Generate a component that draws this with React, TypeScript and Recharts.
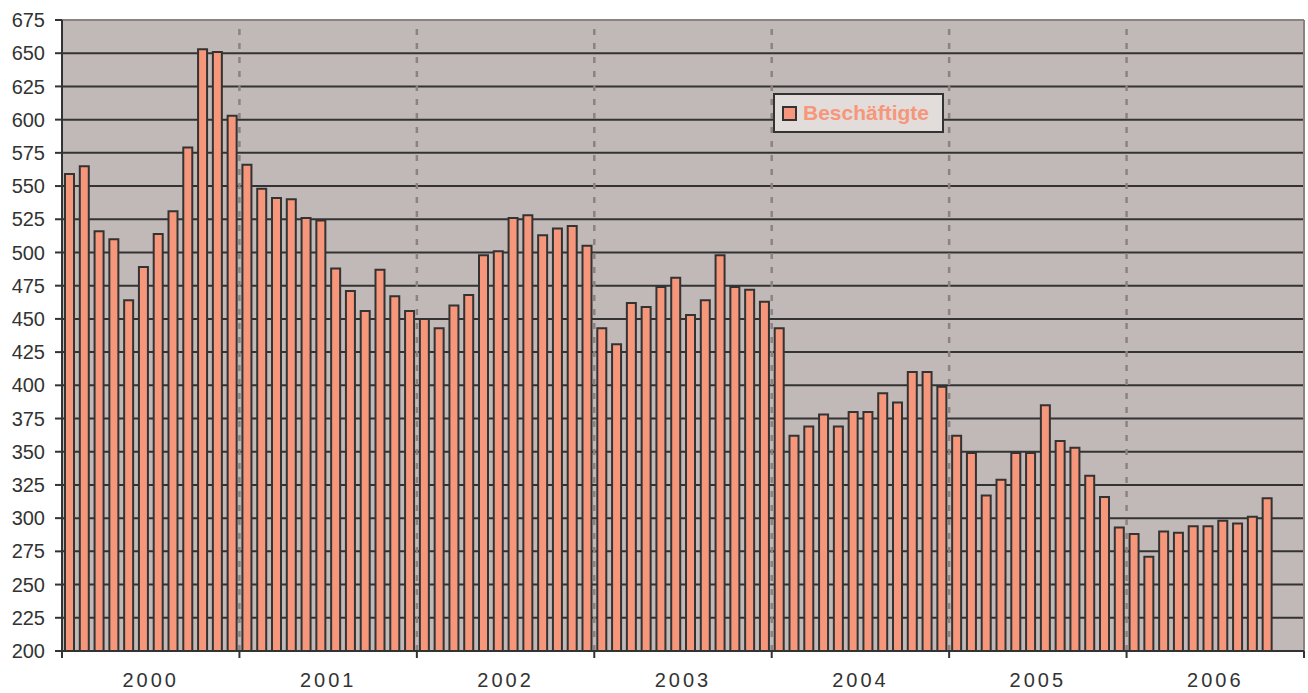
import React from 'react';
import { BarChart, Bar, XAxis, YAxis, CartesianGrid, ReferenceLine, Legend } from 'recharts';

// Beschäftigte per month, Jan 2000 .. Oct 2006
const YEARS = ['2000', '2001', '2002', '2003', '2004', '2005', '2006'];
const V2000 = [559, 565, 516, 510, 464, 489, 514, 531, 579, 653, 651, 603];
const V2001 = [566, 548, 541, 540, 526, 524, 488, 471, 456, 487, 467, 456];
const V2002 = [450, 443, 460, 468, 498, 501, 526, 528, 513, 518, 520, 505];
const V2003 = [443, 431, 462, 459, 474, 481, 453, 464, 498, 474, 472, 463];
const V2004 = [443, 362, 369, 378, 369, 380, 380, 394, 387, 410, 410, 399];
const V2005 = [362, 349, 317, 329, 349, 349, 385, 358, 353, 332, 316, 293];
const V2006 = [288, 271, 290, 289, 294, 294, 298, 296, 301, 315];
const Y_TICKS = [200, 225, 250, 275, 300, 325, 350, 375, 400, 425, 450, 475, 500, 525, 550, 575, 600, 625, 650, 675];
const SERIES_NAME = 'Beschäftigte';

const MONTHS = [...V2000, ...V2001, ...V2002, ...V2003, ...V2004, ...V2005, ...V2006];
const data = MONTHS.map((v, i) => ({ m: i + 0.5, v }));
const TOTAL = YEARS.length * 12;
const yearEdges = YEARS.map((_, i) => i * 12).concat(TOTAL);
const yearMids = YEARS.map((_, i) => i * 12 + 6);

const FONT = '"Liberation Sans", Arial, sans-serif';
const BAR = '#F6967A';
const DARK = '#333333';
const GREY = '#8C8282';

const LegendBox = () => (
  <div
    style={{
      boxSizing: 'border-box',
      width: 171,
      height: 40,
      border: `2px solid ${DARK}`,
      background: '#E2DCDA',
      display: 'flex',
      alignItems: 'center',
      paddingLeft: 7,
      fontFamily: FONT,
    }}
  >
    <span style={{ display: 'inline-block', boxSizing: 'border-box', width: 15, height: 15, background: BAR, border: `2px solid ${DARK}` }} />
    <span style={{ marginLeft: 6, color: BAR, fontWeight: 'bold', fontSize: 21 }}>{SERIES_NAME}</span>
  </div>
);

// year edges only get a tick mark, no text
const NoLabel = () => <g />;

export default function App() {
  return (
    <div style={{ position: 'absolute', left: 0, top: 0, background: '#fff' }}>
      <BarChart width={1308} height={693} data={data} margin={{ top: 20, right: 4, bottom: 0, left: 0 }}>
        <CartesianGrid
          xAxisId="m"
          vertical={false}
          stroke={DARK}
          strokeWidth={2}
          fill="#C1B9B7"
          fillOpacity={1}
        />
        <XAxis
          xAxisId="m"
          dataKey="m"
          type="number"
          domain={[0, TOTAL]}
          allowDataOverflow
          ticks={yearEdges}
          interval={0}
          tick={<NoLabel />}
          tickSize={7}
          height={8}
          axisLine={{ stroke: DARK, strokeWidth: 2 }}
          tickLine={{ stroke: DARK, strokeWidth: 2 }}
        />
        <XAxis
          xAxisId="yr"
          dataKey="m"
          type="number"
          domain={[0, TOTAL]}
          allowDataOverflow
          ticks={yearMids}
          interval={0}
          tickFormatter={(v: number) => YEARS[Math.floor(v / 12)]}
          axisLine={false}
          tickLine={false}
          tickSize={0}
          tickMargin={14}
          height={34}
          tick={{ fill: DARK, fontSize: 20, fontFamily: FONT, letterSpacing: 3 }}
        />
        <YAxis
          domain={[200, 675]}
          ticks={Y_TICKS}
          interval={0}
          width={62}
          tickSize={7}
          tickMargin={10}
          axisLine={{ stroke: DARK, strokeWidth: 2 }}
          tickLine={{ stroke: DARK, strokeWidth: 2 }}
          tick={{ fill: DARK, fontSize: 20, fontFamily: FONT }}
        />
        {yearEdges.slice(1, -1).map((x) => (
          <ReferenceLine key={x} xAxisId="m" x={x} stroke={GREY} strokeWidth={2.5} strokeDasharray="6 8" />
        ))}
        <ReferenceLine xAxisId="m" y={675} stroke={GREY} strokeWidth={2} />
        <ReferenceLine xAxisId="m" x={TOTAL} stroke={GREY} strokeWidth={2} />
        <Legend
          verticalAlign="middle"
          align="center"
          layout="horizontal"
          content={() => <LegendBox />}
          wrapperStyle={{ position: 'absolute', left: 773, top: 93, width: 171, height: 40 }}
        />
        <Bar
          xAxisId="m"
          dataKey="v"
          name={SERIES_NAME}
          barSize={9}
          fill={BAR}
          stroke={DARK}
          strokeWidth={2}
          isAnimationActive={false}
        />
      </BarChart>
    </div>
  );
}
